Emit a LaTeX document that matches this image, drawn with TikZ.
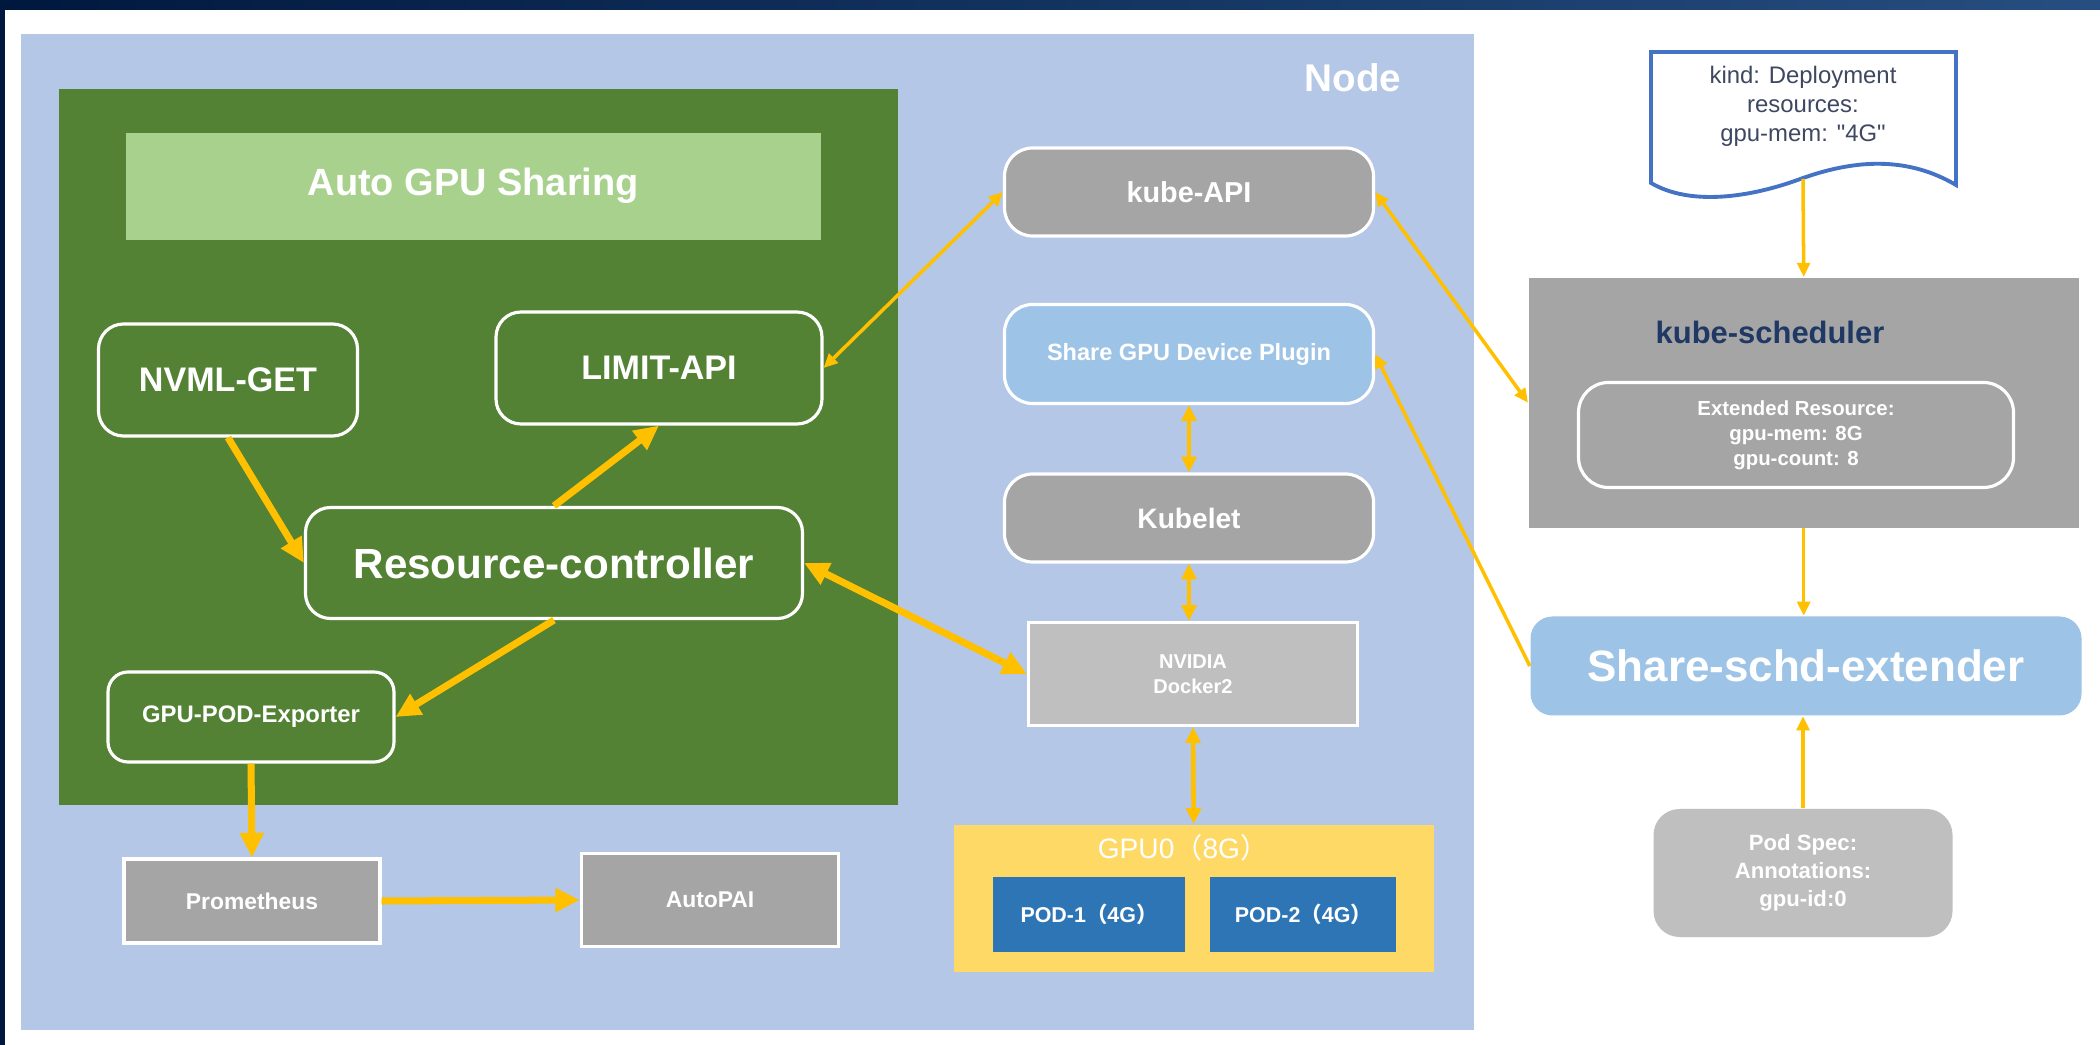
\documentclass[tikz,border=0pt]{standalone}
\usepackage{fontspec}
\setmainfont{Liberation Sans}
\newfontfamily\docfont{Liberation Sans}
\newfontfamily\cjk{Noto Sans CJK SC}
\usepackage{tikz}
\usetikzlibrary{positioning, arrows.meta, calc}

\definecolor{nodebg}{RGB}{180,199,231}
\definecolor{agsgreen}{RGB}{84,130,53}
\definecolor{agslight}{RGB}{169,209,142}
\definecolor{k8sgray}{RGB}{165,165,165}
\definecolor{k8slight}{RGB}{191,191,191}
\definecolor{plugblue}{RGB}{157,195,230}
\definecolor{gpugold}{RGB}{255,217,102}
\definecolor{podblue}{RGB}{46,117,182}
\definecolor{arrgold}{RGB}{255,192,0}
\definecolor{docblue}{RGB}{68,114,196}
\definecolor{navytxt}{RGB}{31,56,100}
\definecolor{doctxt}{RGB}{62,72,96}
\definecolor{bardark}{RGB}{0,24,62}
\definecolor{barlight}{RGB}{38,78,128}

\newcommand{\fsz}[2]{\fontsize{#1pt}{#2pt}\selectfont}

\tikzset{
  bigtip/.tip={Triangle[length=7pt, width=6.5pt]},
  midtip/.tip={Triangle[length=4.5pt, width=4.2pt]},
  smltip/.tip={Triangle[length=4pt, width=3.6pt]},
}

\begin{document}
\begin{tikzpicture}[x=0.1mm, y=-0.1mm,
  cont/.style={fill=#1, inner sep=0pt, anchor=north west},
  grn/.style={
    draw=white, line width=0.9pt, fill=agsgreen, rounded corners=2.5mm,
    inner sep=0pt, align=center, text=white
  },
  gry/.style={
    draw=white, line width=0.9pt, fill=k8sgray, rounded corners=2.8mm,
    inner sep=0pt, minimum width=36.9mm, align=center, text=white
  },
  sq/.style={
    draw=white, line width=0.9pt, fill=#1,
    inner sep=0pt, align=center, text=white
  },
  pod/.style={
    fill=podblue, inner sep=0pt, minimum height=7.5mm,
    font=\bfseries\fsz{6.1}{7.5}, text=white
  },
  arrT/.style={draw=arrgold, line width=2pt, -bigtip},
  arrM/.style={draw=arrgold, line width=1.3pt, -midtip},
  arrS/.style={draw=arrgold, line width=1pt, -smltip},
]
\useasboundingbox (0,0) rectangle (2100,1045);

% ===== Frame =====
\fill[white] (0,0) rectangle (2100,1045);
\shade[left color=bardark, right color=barlight] (0,0) rectangle (2100,10);
\fill[bardark] (0,0) rectangle (5,1045);

% ===== Node =====
\node[cont=nodebg, minimum width=145.3mm, minimum height=99.6mm] (nodebox) at (20,33) {};
\node[font=\bfseries\fsz{11}{13}, text=white] (nodelbl) at (1353,78) {Node};

% ===== Auto GPU Sharing =====
\node[cont=agsgreen, minimum width=83.9mm, minimum height=71.6mm] (ags) at (58,88) {};
\node[cont=agslight, minimum width=69.5mm, minimum height=10.7mm,
      font=\bfseries\fsz{10.8}{13}, text=white] (agstitle) at (125,132) {Auto GPU Sharing};

\node[grn, minimum width=25.9mm, minimum height=11.2mm, font=\bfseries\fsz{9.7}{11.6}] (nvml) at (228,380) {NVML-GET};
\node[grn, minimum width=32.6mm, minimum height=11.2mm, font=\bfseries\fsz{9.7}{11.6}] (limit) at (659,368) {LIMIT-API};
\node[grn, minimum width=49.7mm, minimum height=11.1mm, font=\bfseries\fsz{12}{14}] (rc) at (554,563) {Resource-controller};
\node[grn, rounded corners=2mm, minimum width=28.6mm, minimum height=9mm, font=\bfseries\fsz{6.8}{8}] (exp) at (251,717) {GPU-POD-Exporter};

\node[sq=k8sgray, minimum width=25.6mm, minimum height=8.4mm, font=\bfseries\fsz{6.5}{8}] (prom) at (252,901) {Prometheus};
\node[sq=k8sgray, minimum width=25.7mm, minimum height=9.3mm, font=\bfseries\fsz{6.5}{8}] (autopai) at (710,900) {AutoPAI};

% ===== Kubernetes node side =====
\node[gry, minimum height=8.8mm, font=\bfseries\fsz{8.2}{10}] (kapi) at (1189,192) {kube-API};
\node[gry, fill=plugblue, minimum height=9.9mm, font=\bfseries\fsz{6.7}{8}] (plugin) at (1189,354) {Share GPU Device Plugin};
\node[gry, minimum height=8.8mm, font=\bfseries\fsz{8}{10}] (kubelet) at (1189,518) {Kubelet};
\node[sq=k8slight, minimum width=32.9mm, minimum height=10.3mm, font=\bfseries\fsz{5.7}{7.1}] (docker) at (1193,674) {NVIDIA\\Docker2};

\node[cont=gpugold, minimum width=48mm, minimum height=14.7mm] (gpu0) at (953,824) {};
\node[font=\fsz{8}{10}, text=white] (gpulbl) at (1183,848) {GPU0{\cjk （}8G{\cjk ）}};
\node[pod, minimum width=19.2mm] (pod1) at (1089,914) {POD-1{\cjk （}4G{\cjk ）}};
\node[pod, minimum width=18.6mm, right=2.4mm of pod1] (pod2) {POD-2{\cjk （}4G{\cjk ）}};

% ===== Scheduler side =====
\draw[docblue, line width=1.1pt, fill=white]
  (1651,52) -- (1956,52) -- (1956,185)
  .. controls (1910,158) and (1860,158) .. (1803,178)
  .. controls (1750,198) and (1690,206) .. (1651,183) -- cycle;
\node[font=\docfont\fsz{6.8}{8.25}, text=doctxt, align=center] (doc) at (1803,106)
  {kind: Deployment\\resources:\\gpu-mem: "4G"};
\coordinate (docend) at (1803,179);

\node[cont=k8sgray, minimum width=55mm, minimum height=25mm] (sched) at (1528,277) {};
\node[font=\bfseries\fsz{8.8}{10}, text=navytxt] (schedlbl) at (1770,332) {kube-scheduler};
\node[draw=white, line width=0.9pt, rounded corners=3mm, inner sep=0pt,
      minimum width=43.5mm, minimum height=10.5mm, align=center,
      font=\bfseries\fsz{5.8}{7.1}, text=white] (extres) at (1796,435)
  {Extended Resource:\\gpu-mem: 8G\\gpu-count: 8};

\node[fill=plugblue, rounded corners=2.2mm, inner sep=0pt, minimum width=55.1mm, minimum height=9.9mm,
      font=\bfseries\fsz{12.5}{15}, text=white] (ext) at (1806,666) {Share-schd-extender};
\node[fill=k8slight, rounded corners=2.6mm, inner sep=0pt, minimum width=29.9mm, minimum height=12.8mm,
      align=center, font=\bfseries\fsz{6.3}{8}, text=white] (podspec) at (1803,873)
  {Pod Spec:\\Annotations:\\gpu-id:0};

% ===== Arrows =====
\draw[arrT] (nvml.south) -- (rc.west);
\draw[arrT] (rc.north) -- (limit.south);
\draw[arrT] (rc.south) -- (exp.east);
\draw[arrT, bigtip-bigtip] (rc.east) -- (docker.west);
\draw[arrT] (exp.south) -- (prom.north);
\draw[arrT] (prom.east) -- (autopai.west);

\draw[arrS, smltip-smltip] (limit.east) -- (kapi.west);
\draw[arrS, smltip-smltip] (kapi.east) -- (sched.west);
\draw[arrS] (ext.west) -- (plugin.east);
\draw[arrM, midtip-midtip] (plugin.south) -- (kubelet.north);
\draw[arrM, midtip-midtip] (kubelet.south) -- (kubelet.south |- docker.north);
\draw[arrM, midtip-midtip] (docker.south) -- (gpu0.north);

\draw[arrS] (docend) -- (sched.north);
\draw[arrS] (sched.south) -- (sched.south |- ext.north);
\draw[arrS] (podspec.north) -- (podspec.north |- ext.south);

\end{tikzpicture}
\end{document}
